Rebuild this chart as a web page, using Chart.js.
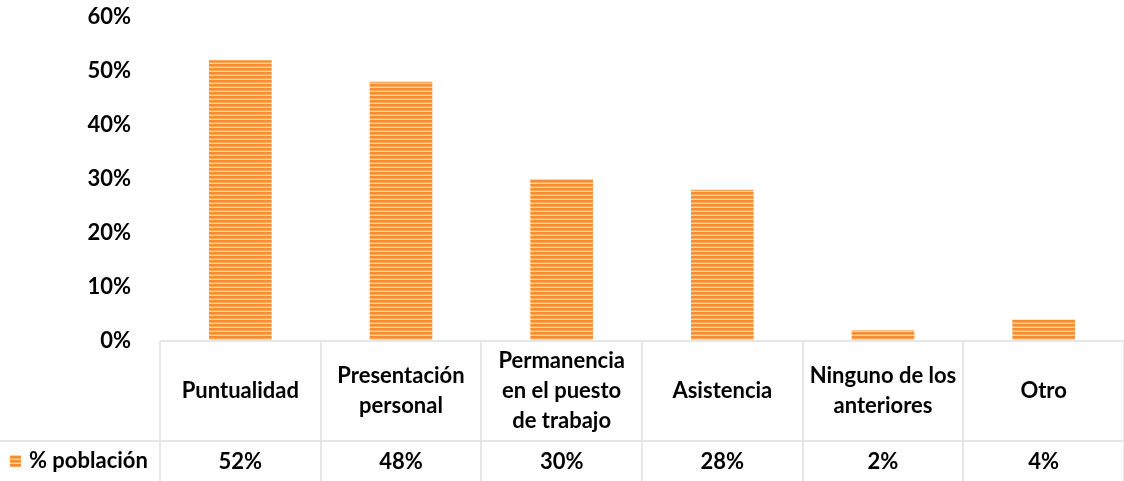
<!DOCTYPE html>
<html>
<head>
<meta charset="utf-8">
<script src="https://cdn.jsdelivr.net/npm/chart.js@4"></script>
<style>
  html, body { margin: 0; padding: 0; background: #fff; }
  #wrap { width: 1124px; height: 481px; }
</style>
</head>
<body>
<div id="wrap"><canvas id="barChart"></canvas></div>
<script>
const categories = [
    ['Puntualidad'],
    ['Presentación', 'personal'],
    ['Permanencia', 'en el puesto', 'de trabajo'],
    ['Asistencia'],
    ['Ninguno de los', 'anteriores'],
    ['Otro']
];
const seriesName = '% población';
const poblacion = [52, 48, 30, 28, 2, 4];
const yTicks = [0, 10, 20, 30, 40, 50, 60];

const FONT = 'Lato, "DejaVu Sans", sans-serif';
const GRID = '#e6e6e6';
const TABLE_H = 140;

// striped orange fill like the Excel pattern
function stripePattern(ctx) {
    let c = document.createElement('canvas');
    c.width = 4; c.height = 4;
    let g = c.getContext('2d');
    g.fillStyle = '#fdd3a8'; g.fillRect(0, 0, 4, 4);
    g.fillStyle = '#f78d2e'; g.fillRect(0, 0, 4, 2);
    g.fillStyle = '#f9a75a'; g.fillRect(0, 2, 4, 1);
    return ctx.createPattern(c, 'repeat');
}

const dataTable = {
    id: 'dataTable',
    afterDraw(chart) {
        let ctx = chart.ctx;
        let x = chart.scales.x;
        let area = chart.chartArea;
        let top = area.bottom;
        let mid = top + 100;
        let bottom = chart.height;
        let step = x.getPixelForValue(1) - x.getPixelForValue(0);

        ctx.save();
        ctx.strokeStyle = GRID;
        ctx.lineWidth = 2;
        ctx.beginPath();
        ctx.moveTo(area.left, top); ctx.lineTo(area.right, top);
        ctx.moveTo(0, mid); ctx.lineTo(area.right, mid);
        for (let i = 0; i <= categories.length; i++) {
            let px = Math.round(x.getPixelForValue(i) - step / 2);
            ctx.moveTo(px, top); ctx.lineTo(px, bottom);
        }
        ctx.stroke();

        ctx.fillStyle = '#000';
        ctx.font = 'bold 22px ' + FONT;
        ctx.textAlign = 'center';
        ctx.textBaseline = 'middle';
        categories.forEach((lines, i) => {
            let cx = x.getPixelForValue(i);
            let lh = 30;
            let y0 = (top + mid) / 2 - (lines.length - 1) * lh / 2;
            lines.forEach((t, j) => ctx.fillText(t, cx, y0 + j * lh));
            ctx.fillText(poblacion[i] + '%', cx, (mid + bottom) / 2 + 1);
        });

        // legend key + series name
        ctx.fillStyle = stripePattern(ctx);
        ctx.fillRect(10, 455, 11, 12);
        ctx.fillStyle = '#000';
        ctx.textAlign = 'left';
        ctx.fillText(seriesName, 29, (mid + bottom) / 2);
        ctx.restore();
    }
};

let ctx = document.getElementById('barChart').getContext('2d');

new Chart(ctx, {
    type: 'bar',
    data: {
        labels: categories,
        datasets: [{
            label: seriesName,
            data: poblacion,
            backgroundColor: stripePattern(ctx),
            borderWidth: 0,
            categoryPercentage: 1,
            barPercentage: 0.39
        }]
    },
    options: {
        responsive: true,
        maintainAspectRatio: false,
        animation: false,
        layout: { padding: { top: 17, right: 0, bottom: TABLE_H, left: 0 } },
        plugins: {
            legend: { display: false },
            tooltip: { enabled: false }
        },
        scales: {
            x: { display: false },
            y: {
                min: 0,
                max: 60,
                afterFit: scale => {
                    scale.width = 160;
                    scale.paddingTop = 0;
                    scale.paddingBottom = 0;
                },
                afterBuildTicks: scale => { scale.ticks = yTicks.map(v => ({ value: v })); },
                grid: { display: false },
                border: { display: false },
                ticks: {
                    padding: 21,
                    color: '#000',
                    font: { family: FONT, size: 22, weight: 'bold' },
                    callback: v => v + '%'
                }
            }
        }
    },
    plugins: [dataTable]
});
</script>
</body>
</html>
